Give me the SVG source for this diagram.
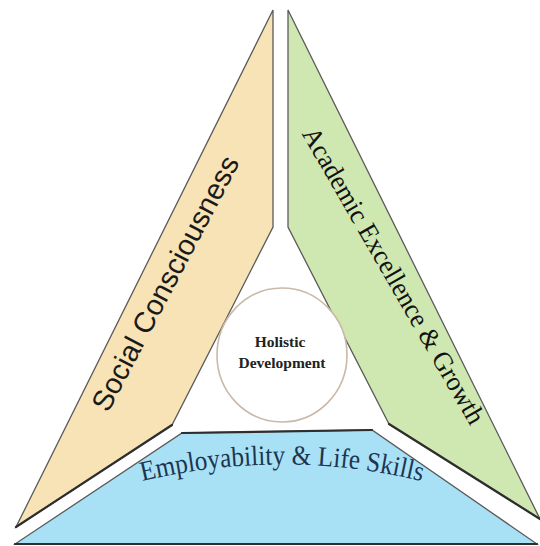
<svg xmlns="http://www.w3.org/2000/svg" width="540" height="546" viewBox="0 0 540 546">
  <defs>
    <style>
      .edge { stroke: #5a5a5a; stroke-width: 1.3; stroke-linejoin: miter; }
      .dark { fill: none; stroke: #2e2e2e; stroke-width: 2.2; stroke-linecap: round; }
      .serif { font-family: "Liberation Serif", "Times New Roman", serif; }
      .sans { font-family: "Liberation Sans", Arial, sans-serif; }
    </style>
    <path id="arcPath" d="M 120,487 A 594 594 0 0 1 444,487"/>
  </defs>
  <rect x="0" y="0" width="540" height="546" fill="#ffffff"/>

  <g id="social-consciousness">
    <polygon class="edge" fill="#f7e3b5" points="273,10 273,227 172,425 16,527"/>
    <line class="dark" x1="172" y1="425" x2="16" y2="527"/>
    <text class="sans" font-size="29" fill="#1a1a1a" text-anchor="middle" transform="translate(174,288) rotate(-62.3)">Social Consciousness</text>
  </g>

  <g id="academic-excellence">
    <polygon class="edge" fill="#cfe7b0" points="288,10 288,227 389,424 540,519"/>
    <line class="dark" x1="389" y1="424" x2="540" y2="519"/>
    <text class="serif" font-size="27" fill="#111111" text-anchor="middle" textLength="338" lengthAdjust="spacingAndGlyphs" transform="translate(386,280) rotate(60)">Academic Excellence &amp; Growth</text>
  </g>

  <g id="employability">
    <polygon class="edge" fill="#a8e1f5" points="182,433 372,430 537,544 15,544"/>
    <line class="dark" x1="182" y1="433" x2="372" y2="430" stroke="#444"/>
    <line class="dark" x1="15" y1="544" x2="537" y2="544"/>
    <text class="serif" font-size="28" fill="#1c3550">
      <textPath href="#arcPath" startOffset="50%" text-anchor="middle" textLength="282" lengthAdjust="spacingAndGlyphs">Employability &amp; Life Skills</textPath>
    </text>
  </g>

  <g id="holistic-development">
    <ellipse cx="282" cy="355" rx="65" ry="67" fill="#ffffff" stroke="#c9b9a8" stroke-width="1.6"/>
    <text class="serif" font-size="15.5" font-weight="bold" fill="#222222" text-anchor="middle">
      <tspan x="282" y="347">Holistic</tspan>
      <tspan x="282" y="368">Development</tspan>
    </text>
  </g>
</svg>
